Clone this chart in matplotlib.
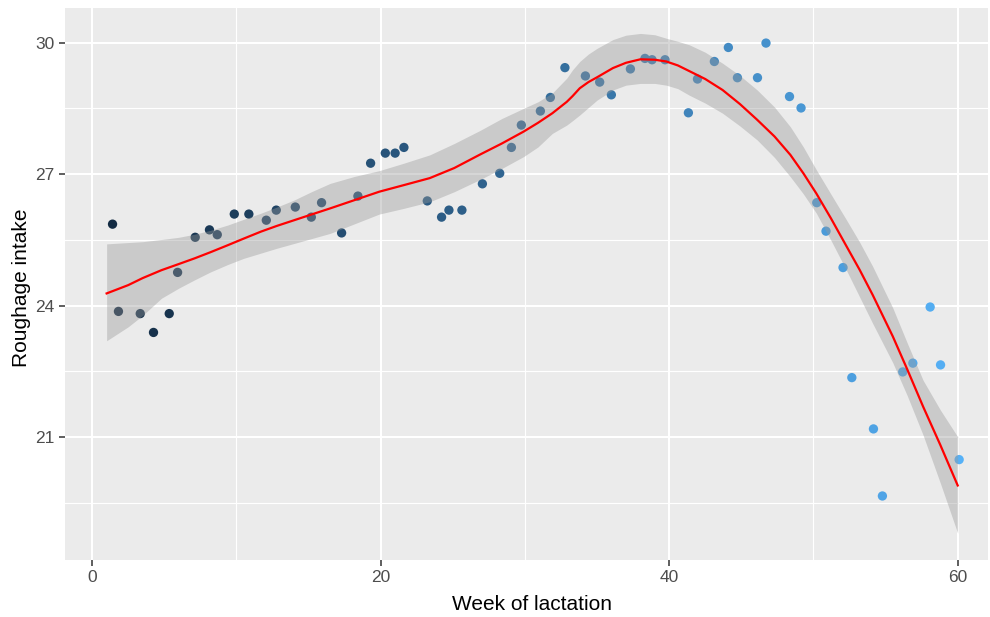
import numpy as np
import matplotlib
matplotlib.use("Agg")
import matplotlib.pyplot as plt
from matplotlib.colors import LinearSegmentedColormap, Normalize

plt.rcParams['font.family'] = ['Liberation Sans', 'DejaVu Sans']

# Weekly roughage intake observations
week = [1.41, 1.82, 3.33, 4.25, 5.34, 5.92, 7.14, 8.13, 8.67, 9.85,
        10.86, 12.07, 12.76, 14.08, 15.19, 15.90, 17.29, 18.42, 19.30, 20.32,
        21.00, 21.61, 23.23, 24.22, 24.73, 25.63, 27.05, 28.25, 29.06, 29.75,
        31.07, 31.76, 32.77, 34.19, 35.18, 35.99, 37.31, 38.32, 38.81, 39.71,
        41.33, 41.96, 43.13, 44.10, 44.73, 46.12, 46.71, 48.34, 49.14, 50.23,
        50.87, 52.05, 52.66, 54.16, 54.78, 56.19, 56.89, 58.09, 58.81, 60.10]
intake = [25.86, 23.87, 23.82, 23.39, 23.82, 24.76, 25.56, 25.73, 25.62, 26.09,
          26.09, 25.95, 26.18, 26.25, 26.02, 26.35, 25.66, 26.50, 27.25, 27.48,
          27.48, 27.61, 26.39, 26.02, 26.18, 26.18, 26.78, 27.02, 27.61, 28.12,
          28.44, 28.75, 29.43, 29.24, 29.10, 28.81, 29.40, 29.64, 29.61, 29.61,
          28.40, 29.17, 29.57, 29.89, 29.20, 29.20, 29.99, 28.77, 28.51, 26.35,
          25.70, 24.87, 22.36, 21.19, 19.66, 22.49, 22.69, 23.97, 22.65, 20.49]

# Smoothed trend and its confidence band
smooth_x = [1.0, 2.5, 3.5, 4.8, 6.0, 7.1, 8.2, 9.4, 10.5, 11.7,
            12.8, 14.0, 15.2, 16.5, 18.2, 19.9, 21.6, 23.4, 25.1, 26.9,
            28.4, 29.9, 30.9, 31.9, 32.9, 33.3, 33.8, 34.4, 35.0, 36.1,
            37.0, 38.0, 39.0, 39.8, 40.6, 41.4, 42.5, 43.7, 44.9, 46.1,
            47.3, 48.4, 49.3, 50.2, 51.2, 52.3, 53.2, 54.1, 55.5, 56.5,
            57.6, 58.8, 60.0]
smooth_y = [24.28, 24.47, 24.63, 24.81, 24.95, 25.08, 25.22, 25.38, 25.53, 25.69,
            25.82, 25.95, 26.08, 26.22, 26.41, 26.60, 26.75, 26.91, 27.14, 27.45,
            27.70, 27.97, 28.17, 28.39, 28.65, 28.78, 28.96, 29.10, 29.21, 29.42,
            29.54, 29.62, 29.61, 29.57, 29.48, 29.35, 29.17, 28.92, 28.60, 28.24,
            27.86, 27.44, 27.02, 26.56, 26.00, 25.35, 24.82, 24.25, 23.30, 22.55,
            21.70, 20.82, 19.90]
band_hi = [25.41, 25.44, 25.46, 25.51, 25.56, 25.63, 25.72, 25.84, 25.97, 26.11,
           26.25, 26.41, 26.60, 26.79, 26.95, 27.08, 27.25, 27.44, 27.70, 28.00,
           28.27, 28.50, 28.65, 28.85, 29.19, 29.38, 29.57, 29.74, 29.87, 30.07,
           30.17, 30.21, 30.18, 30.10, 30.03, 29.95, 29.78, 29.53, 29.25, 28.92,
           28.53, 28.08, 27.62, 27.10, 26.55, 25.95, 25.45, 24.90, 23.95, 23.15,
           22.30, 21.62, 21.01]
band_lo = [23.20, 23.52, 23.78, 24.17, 24.40, 24.59, 24.77, 24.94, 25.08, 25.20,
           25.31, 25.42, 25.53, 25.65, 25.87, 26.09, 26.22, 26.37, 26.60, 26.88,
           27.13, 27.40, 27.62, 27.93, 28.12, 28.22, 28.35, 28.52, 28.69, 28.92,
           29.03, 29.07, 29.07, 29.03, 28.95, 28.80, 28.62, 28.39, 28.10, 27.78,
           27.38, 26.94, 26.55, 26.11, 25.50, 24.80, 24.20, 23.60, 22.70, 21.95,
           21.05, 19.95, 18.81]

x_ticks = [0, 20, 40, 60]
y_ticks = [21, 24, 27, 30]

fig = plt.figure(figsize=(9.9, 6.17), dpi=100)
ax = fig.add_axes([64.5 / 990, 1 - 560 / 617, (988 - 64.5) / 990, (560 - 8) / 617])
ax.set_facecolor('#EBEBEB')
for s in ax.spines.values():
    s.set_visible(False)

ax.set_xlim(-1.92, 62.1)
ax.set_ylim(18.20, 30.79)

ax.set_xticks(x_ticks)
ax.set_yticks(y_ticks)
ax.set_xticks([10, 30, 50], minor=True)
ax.set_yticks([19.5, 22.5, 25.5, 28.5], minor=True)
ax.grid(which='major', color='white', linewidth=1.5)
ax.grid(which='minor', color='white', linewidth=0.8)
ax.set_axisbelow(True)
ax.tick_params(which='major', length=4, width=1.1, color='#333333',
               labelsize=12.5, labelcolor='#4D4D4D', pad=3)
ax.tick_params(which='minor', length=0)

cmap = LinearSegmentedColormap.from_list('blues', ['#132B43', '#336A98', '#56B1F7'])
ax.scatter(week, intake, c=week, cmap=cmap, norm=Normalize(min(week), max(week)),
           s=45, linewidths=0, zorder=3)

ax.fill_between(smooth_x, band_lo, band_hi, color='#999999', alpha=0.4,
                linewidth=0, zorder=4)
ax.plot(smooth_x, smooth_y, color='red', linewidth=1.6, zorder=5,
        solid_joinstyle='round')

fig.text(532 / 990, 1 - 605 / 617, 'Week of lactation', ha='center', va='center',
         fontsize=15, color='black')
fig.text(22 / 990, 1 - 288 / 617, 'Roughage intake', ha='center', va='center',
         rotation=90, fontsize=15, color='black')

fig.savefig('out.png', dpi=100)
